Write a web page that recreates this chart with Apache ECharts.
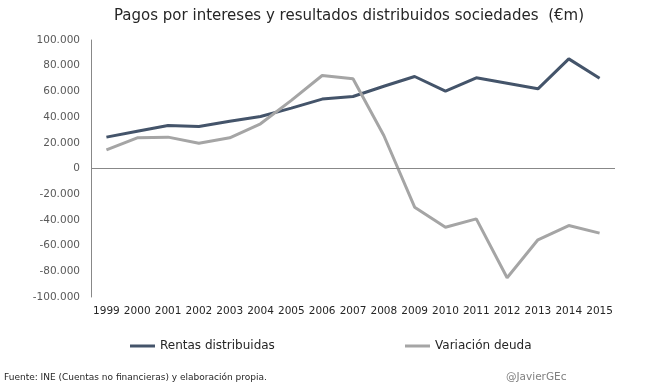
<!DOCTYPE html>
<html><head><meta charset="utf-8">
<script src="https://cdn.jsdelivr.net/npm/echarts@6/dist/echarts.min.js"></script>
<style>html,body{margin:0;padding:0;background:#fff}#c{width:668px;height:389px}</style>
</head><body><div id="c"></div>
<script>
const years = ['1999','2000','2001','2002','2003','2004','2005','2006','2007','2008','2009','2010','2011','2012','2013','2014','2015'];
const rentas = [24400, 29000, 33500, 32700, 36800, 40500, 47000, 54000, 56000, 64000, 71600, 60200, 70600, 66400, 62000, 85300, 70300];
const variacion = [14500, 23900, 24400, 19700, 23900, 34800, 53000, 72400, 69800, 25700, -30100, -45700, -39200, -85000, -55500, -44400, -50300];
const yTicks = {min: -100000, max: 100000, interval: 20000};

const FONT = 'DejaVu Sans';
const fmt = v => { const s = Math.abs(v).toString().replace(/\B(?=(\d{3})+(?!\d))/g, '.'); return (v < 0 ? '-' : '') + s; };
const chart = echarts.init(document.getElementById('c'));
chart.setOption({
  animation: false,
  grid: {left: 91, right: 53, top: 40, bottom: 92},
  legend: [
    {data: ['Rentas distribuidas'], left: 125, top: 335, icon: 'rect', itemWidth: 25, itemHeight: 3, itemGap: 3,
     textStyle: {fontFamily: FONT, fontSize: 12, color: '#262626'}},
    {data: ['Variación deuda'], left: 400, top: 335, icon: 'rect', itemWidth: 25, itemHeight: 3, itemGap: 3,
     textStyle: {fontFamily: FONT, fontSize: 12, color: '#262626'}}
  ],
  xAxis: {type: 'category', data: years, boundaryGap: true,
    axisLine: {show: false}, axisTick: {show: false},
    axisLabel: {fontFamily: FONT, fontSize: 10.5, color: '#262626', margin: 9, interval: 0}},
  yAxis: {type: 'value', min: yTicks.min, max: yTicks.max, interval: yTicks.interval,
    axisLine: {show: true, lineStyle: {color: '#888', width: 1}}, axisTick: {show: false},
    splitLine: {show: false},
    axisLabel: {fontFamily: FONT, fontSize: 10.5, color: '#595959', margin: 11, formatter: fmt}},
  series: [
    {name: 'Rentas distribuidas', type: 'line', data: rentas, symbol: 'none', color: '#44546A',
     lineStyle: {width: 3, color: '#44546A'},
     markLine: {silent: true, symbol: 'none', label: {show: false}, lineStyle: {color: '#888', width: 1, type: 'solid'},
       data: [{yAxis: 0}]}},
    {name: 'Variación deuda', type: 'line', data: variacion, symbol: 'none', color: '#A5A5A5',
     lineStyle: {width: 3, color: '#A5A5A5'}}
  ],
  graphic: [
    {type: 'text', x: 349, y: 16, style: {text: 'Pagos por intereses y resultados distribuidos sociedades  (€m)', fontFamily: FONT, fontSize: 15, fill: '#262626', align: 'center', verticalAlign: 'middle'}},
    {type: 'text', left: 4, top: 373, style: {text: 'Fuente: INE (Cuentas no financieras) y elaboración propia.', fontFamily: FONT, fontSize: 9, fill: '#262626'}},
    {type: 'text', left: 506, top: 372, style: {text: '@JavierGEc', fontFamily: FONT, fontSize: 10.5, fill: '#808080'}}
  ]
});
</script></body></html>
